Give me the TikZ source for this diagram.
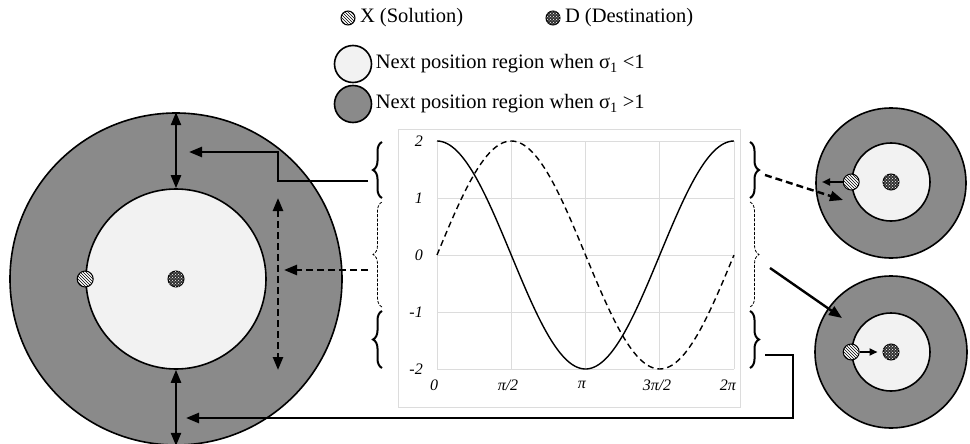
\documentclass[tikz,border=0pt]{standalone}
\usepackage{fontspec}
\setmainfont{Liberation Serif}
\usepackage{tikz}
\usetikzlibrary{arrows.meta, decorations.pathreplacing, patterns, positioning}
\definecolor{ringgray}{HTML}{8A8A8A}
\definecolor{coregray}{HTML}{F2F2F2}
\definecolor{gridgray}{HTML}{DCDCDC}
\newcommand{\legendfont}{\fontsize{20.5}{24}\selectfont}
\newcommand{\tickfont}{\fontsize{16}{19}\selectfont\itshape}

\tikzset{
  ring/.style={circle, draw, line width=1.6pt, fill=ringgray, inner sep=0pt},
  core/.style={circle, draw, line width=1.6pt, fill=coregray, inner sep=0pt},
  soldot/.style={circle, draw, line width=1pt, minimum size=16pt, inner sep=0pt,
    fill=white, postaction={pattern=north west lines}},
  destdot/.style={circle, draw, line width=1pt, minimum size=16pt, inner sep=0pt,
    fill=black!80, postaction={pattern=crosshatch dots, pattern color=white}},
  link/.style={line width=2.4pt},
  dashlink/.style={line width=2.4pt, dash pattern=on 7pt off 4pt},
  tipone/.style={-{Triangle[length=13pt,width=10pt]}},
  tiptwo/.style={{Triangle[length=13pt,width=10pt]}-{Triangle[length=13pt,width=10pt]}},
  tipsmall/.style={-{Triangle[length=8pt,width=7pt]}},
  bracethick/.style={decorate, decoration={brace, amplitude=9pt}, line width=2pt},
  bracethin/.style={decorate, decoration={brace, amplitude=9pt}, line width=0.8pt,
    dash pattern=on 3pt off 1.5pt},
  ticklabel/.style={font=\tickfont, inner sep=1pt}
}

\begin{document}
\begin{tikzpicture}[x=1pt, y=-1pt, font=\legendfont]
    \useasboundingbox (0,0) rectangle (970,444);

    % left rings
    \node[ring, minimum size=332pt] (bigOuter) at (176,279) {};
    \node[core, minimum size=180pt] (bigCore) at (176,279) {};
    \node[destdot] (bigD) at (bigCore.center) {};
    \node[soldot] (bigX) at (bigCore.west) {};

    % right rings
    \node[ring, minimum size=150pt] (upOuter) at (891,183) {};
    \node[core, minimum size=78pt] (upCore) at (891,182) {};
    \node[destdot] (upD) at (upCore.center) {};
    \node[soldot] (upX) at (upCore.west) {};
    \node[ring, minimum size=152pt] (lowOuter) at (891,352) {};
    \node[core, minimum size=78pt] (lowCore) at (891,352) {};
    \node[destdot] (lowD) at (lowCore.center) {};
    \node[soldot] (lowX) at (lowCore.west) {};

    % legend
    \node[soldot, minimum size=14pt] (keyX) at (348,18) {};
    \node[right=1pt of keyX] (keyXtext) {X (Solution)};
    \node[destdot, minimum size=14pt] (keyD) at (553,18) {};
    \node[right=1pt of keyD] (keyDtext) {D (Destination)};
    \node[core, minimum size=37pt] (keyLow) at (353,64) {};
    \node[right=0pt of keyLow] (keyLowtext) {Next position region when σ\textsubscript{1} <1};
    \node[ring, minimum size=37pt] (keyHigh) at (353,104) {};
    \node[right=0pt of keyHigh] (keyHightext) {Next position region when σ\textsubscript{1} >1};

    % chart
    \draw[gridgray, line width=1pt] (398,129) rectangle (740,407);
    \foreach \gx in {437,511.25,585.5,659.75,734}
        \draw[gridgray, line width=0.8pt] (\gx,141) -- (\gx,369);
    \foreach \gy in {141,198,255,312,369}
        \draw[gridgray, line width=0.8pt] (437,\gy) -- (734,\gy);
    \foreach \gy/\txt in {141/2,198/1,255/0,312/-1,369/-2}
        \node[ticklabel, anchor=east] at (424,\gy) {\txt};
    \foreach \gx/\txt in {434/0,508/{π/2},582/π,657/{3π/2},728/2π}
        \node[ticklabel] at (\gx,385) {\txt};
    \draw[line width=1.4pt] plot[domain=0:6.2832, samples=120, smooth]
        ({437+47.27*\x}, {255-114*cos(\x r)});
    \draw[line width=1.4pt, dash pattern=on 6pt off 4pt] plot[domain=0:6.2832, samples=120, smooth]
        ({437+47.27*\x}, {255-114*sin(\x r)});

    % braces
    \draw[bracethick] (382,198) -- (382,142);
    \draw[bracethin] (382,307) -- (382,202);
    \draw[bracethick] (382,368) -- (382,311);
    \draw[bracethick] (750,142) -- (750,198);
    \draw[bracethin] (750,202) -- (750,307);
    \draw[bracethick] (750,311) -- (750,368);

    % connector ends
    \coordinate (lTop) at (368,181);
    \coordinate (lMid) at (368,270);
    \coordinate (rTop) at (765,175);
    \coordinate (rMid) at (770,268);
    \coordinate (rLow) at (765,355);
    \coordinate (hitTop) at (189,152);
    \coordinate (hitMid) at (284,270);
    \coordinate (hitLow) at (186,418);
    \coordinate (hitUp) at (843,200);
    \coordinate (hitDown) at (842,318);
    \coordinate (spanTop) at (278,198);
    \coordinate (spanLow) at (278,370);
    \coordinate (upStep) at (822,182);

    % connectors
    \draw[link, tipone] (lTop) -- ++(-90,0) |- (hitTop);
    \draw[dashlink, tipone] (lMid) -- (hitMid);
    \draw[link, tipone] (rLow) -- ++(28,0) |- (hitLow);
    \draw[dashlink, tipone] (rTop) -- (hitUp);
    \draw[link, tipone] (rMid) -- (hitDown);
    \draw[link, tiptwo] (bigOuter.north) -- (bigCore.north);
    \draw[link, tiptwo] (bigCore.south) -- (bigOuter.south);
    \draw[dashlink, tiptwo] (spanTop) -- (spanLow);
    \draw[link, tipsmall] (upX) -- (upStep);
    \draw[link, tipsmall, shorten >=5pt] (lowX) -- (lowD);
\end{tikzpicture}
\end{document}
